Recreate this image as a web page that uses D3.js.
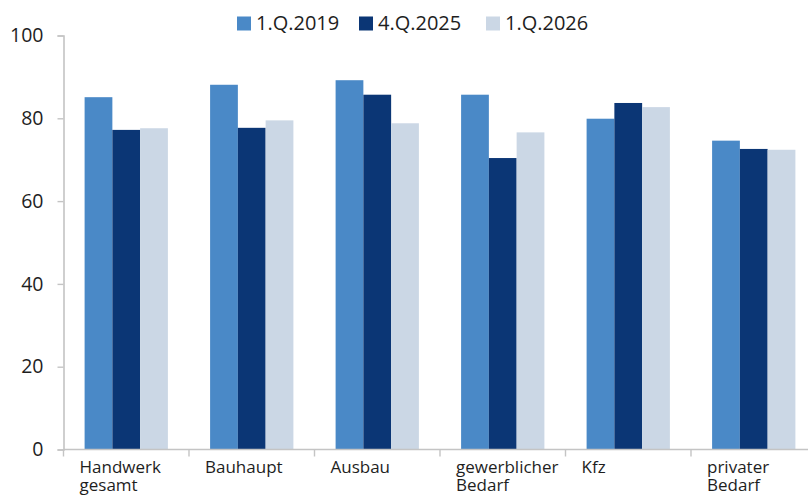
<!DOCTYPE html>
<html>
<head>
<meta charset="utf-8">
<script src="https://cdn.jsdelivr.net/npm/d3@7"></script>
<style>
  body { margin: 0; background: #fff; }
  svg { display: block; font-family: "Open Sans", sans-serif; }
</style>
</head>
<body>
<svg id="chart" width="808" height="496"></svg>
<script>
const categories = [
  ["Handwerk", "gesamt"],
  ["Bauhaupt"],
  ["Ausbau"],
  ["gewerblicher", "Bedarf"],
  ["Kfz"],
  ["privater", "Bedarf"],
];
const seriesNames = ["1.Q.2019", "4.Q.2025", "1.Q.2026"];
const q1_2019 = [85.1, 88.1, 89.2, 85.7, 79.9, 74.6];
const q4_2025 = [77.2, 77.7, 85.7, 70.4, 83.7, 72.6];
const q1_2026 = [77.6, 79.5, 78.8, 76.6, 82.7, 72.4];
const yTicks = [0, 20, 40, 60, 80, 100];
const colors = ["#4a89c7", "#0b3675", "#cbd7e5"];

const series = [q1_2019, q4_2025, q1_2026];

const svg = d3.select("#chart");
const margin = { top: 35.5, left: 63.5, bottom: 46.5 };
const plotW = 753; // plot runs past the right edge in the original
const plotH = 496 - margin.top - margin.bottom;

const x = d3.scaleBand()
  .domain(d3.range(categories.length))
  .range([margin.left, margin.left + plotW])
  .paddingInner(0)
  .paddingOuter(0);

const xInner = d3.scaleBand()
  .domain(d3.range(seriesNames.length))
  .range([0, x.bandwidth()])
  .paddingOuter(0.76)
  .paddingInner(0);

const y = d3.scaleLinear().domain([0, 100]).range([margin.top + plotH, margin.top]);

// bars
const groups = svg.append("g")
  .selectAll("g")
  .data(categories)
  .join("g")
  .attr("transform", (d, i) => `translate(${x(i)},0)`);

groups.selectAll("rect")
  .data((d, i) => series.map((s, k) => ({ k, v: s[i] })))
  .join("rect")
  .attr("x", d => xInner(d.k))
  .attr("width", xInner.bandwidth())
  .attr("y", d => y(d.v))
  .attr("height", d => y(0) - y(d.v))
  .attr("fill", d => colors[d.k]);

// y axis
const yAxis = svg.append("g")
  .attr("transform", `translate(${margin.left},0)`)
  .call(d3.axisLeft(y).tickValues(yTicks).tickSize(6).tickPadding(14));
yAxis.select(".domain").attr("stroke", "#c4c4c4").attr("stroke-width", 1.6);
yAxis.selectAll(".tick line").attr("stroke", "#c4c4c4").attr("stroke-width", 1.4);
yAxis.selectAll(".tick text")
  .attr("font-size", 19.5)
  .attr("fill", "#1e1e1e")
  .attr("font-family", "Open Sans, sans-serif");

// x axis
const xAxis = svg.append("g")
  .attr("transform", `translate(0,${y(0)})`);
xAxis.append("line")
  .attr("x1", margin.left).attr("x2", 808)
  .attr("stroke", "#c4c4c4").attr("stroke-width", 1.6);
xAxis.selectAll("line.tk")
  .data(d3.range(categories.length + 1))
  .join("line")
  .attr("class", "tk")
  .attr("x1", i => margin.left + i * x.step())
  .attr("x2", i => margin.left + i * x.step())
  .attr("y1", 0).attr("y2", 7)
  .attr("stroke", "#c4c4c4").attr("stroke-width", 1.4);

const labels = xAxis.selectAll("text.cat")
  .data(categories)
  .join("text")
  .attr("class", "cat")
  .attr("x", (d, i) => x(i) + 16)
  .attr("y", 23)
  .attr("font-size", 17)
  .attr("fill", "#1e1e1e");
labels.selectAll("tspan")
  .data(d => d)
  .join("tspan")
  .attr("x", function () { return this.parentNode.getAttribute("x"); })
  .attr("dy", (d, i) => i === 0 ? 0 : 18)
  .text(d => d);

// legend
const legendX = [237, 359, 486];
const legend = svg.append("g");
seriesNames.forEach((name, k) => {
  legend.append("rect")
    .attr("x", legendX[k]).attr("y", 16.5)
    .attr("width", 14).attr("height", 14)
    .attr("fill", colors[k]);
  legend.append("text")
    .attr("x", legendX[k] + 19).attr("y", 30)
    .attr("font-size", 20)
    .attr("fill", "#1e1e1e")
    .text(name);
});
</script>
</body>
</html>
